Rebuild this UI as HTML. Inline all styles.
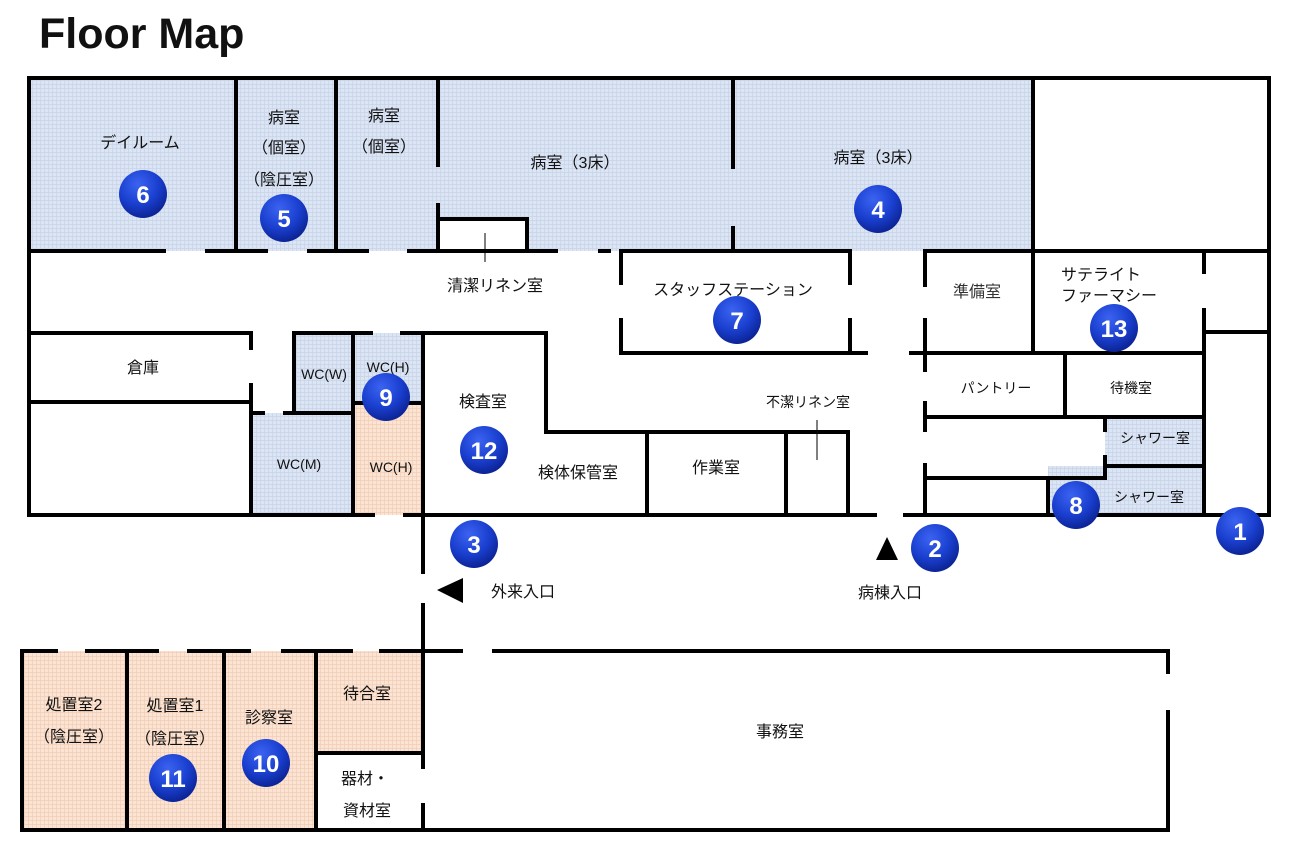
<!DOCTYPE html>
<html><head><meta charset="utf-8">
<style>
html,body{margin:0;padding:0;background:#fff;}
svg{display:block;}
text{font-family:"Liberation Sans","Noto Sans CJK JP",sans-serif;fill:#111;}
.t{font-size:16px;text-anchor:middle;}
.s{font-size:14px;text-anchor:middle;}
.n{font-size:24px;font-weight:bold;fill:#fff;text-anchor:middle;}
</style></head><body>
<svg width="1296" height="848" viewBox="0 0 1296 848" xmlns="http://www.w3.org/2000/svg">
<defs>
<pattern id="pb" width="4" height="4" patternUnits="userSpaceOnUse"><rect width="4" height="4" fill="#dce5f3"/><path d="M0 0.5H4M0.5 0V4" stroke="#c7d3ea" stroke-width="0.7"/></pattern>
<pattern id="po" width="4" height="4" patternUnits="userSpaceOnUse"><rect width="4" height="4" fill="#fbe4d4"/><path d="M0 0.5H4M0.5 0V4" stroke="#f2cdb5" stroke-width="0.7"/></pattern>
<radialGradient id="bg" cx="40%" cy="30%" r="70%"><stop offset="0" stop-color="#3b63f0"/><stop offset="0.6" stop-color="#1a3fcf"/><stop offset="1" stop-color="#0c2496"/></radialGradient>
</defs>
<text x="39" y="48" style="font-size:43px;font-weight:bold;">Floor Map</text>

<rect x="29" y="78" width="1004" height="173" fill="url(#pb)"/>
<rect x="438" y="219" width="89" height="32" fill="#fff"/>
<rect x="294" y="333" width="59" height="80" fill="url(#pb)"/>
<rect x="353" y="333" width="70" height="70" fill="url(#pb)"/>
<rect x="251" y="413" width="102" height="102" fill="url(#pb)"/>
<rect x="353" y="403" width="70" height="112" fill="url(#po)"/>
<rect x="1105" y="417" width="99" height="49" fill="url(#pb)"/>
<rect x="1048" y="466" width="156" height="49" fill="url(#pb)"/>
<rect x="22" y="651" width="400" height="179" fill="url(#po)"/>
<rect x="316" y="753" width="106" height="77" fill="#fff"/>

<g stroke="#000" stroke-width="4" fill="none" stroke-linecap="square">
<path d="M29 78H1269V515"/>
<path d="M29 78V515H373M405 515H875M905 515H1269"/>
<path d="M236 78V251M336 78V251M438 78V165M438 205V251M733 78V167M733 228V251M1033 78V251"/>
<path d="M438 219H527V251"/>
<path d="M29 251H164M207 251H266M309 251H367M409 251H556M600 251H609M621 251H850M925 251H1269"/>
<path d="M621 251V283M621 320V353H866M850 251V283M850 320V353M911 353H925"/>
<path d="M925 251V285M925 320V370M925 403V430M925 465V515"/>
<path d="M1033 251V353M925 353H1204M1204 251V272M1204 310V515M1204 332H1269"/>
<path d="M1065 353V417M925 417H1204M1105 418V430M1105 457V478M925 478H1105M1105 466H1204M1048 478V515"/>
<path d="M546 333V432H848V515M647 432V515M786 432V515"/>
<path d="M29 333H251V348M251 385V413H263M29 402H251M285 413H353"/>
<path d="M294 333H353M294 333V413M353 333V515M251 413V515M353 403H423M353 333H371M402 333H546"/>
<path d="M423 333V572M423 605V767M423 805V830"/>
<path d="M22 651H56M87 651H157M189 651H249M283 651H351M381 651H461M494 651H1168V672M1168 712V830H22V651"/>
<path d="M127 651V830M224 651V830M316 651V830M316 753H423"/>
</g>
<path d="M485 233V262M817 420V460" stroke="#000" stroke-width="1"/>

<polygon points="437,590 463,578 463,603" fill="#000"/>
<polygon points="887,537 876,560 898,560" fill="#000"/>

<text class="t" x="140" y="148">デイルーム</text>
<text class="t" x="284" y="123">病室</text>
<text class="t" x="284" y="153">（個室）</text>
<text class="t" x="284" y="185">（陰圧室）</text>
<text class="t" x="384" y="121">病室</text>
<text class="t" x="384" y="152">（個室）</text>
<text class="t" x="575" y="168">病室（3床）</text>
<text class="t" x="878" y="163">病室（3床）</text>
<text class="t" x="495" y="291">清潔リネン室</text>
<text class="t" x="733" y="295">スタッフステーション</text>
<text class="t" x="977" y="297" style="fill:#333">準備室</text>
<text x="1061" y="280" style="font-size:16px;">サテライト</text>
<text x="1061" y="301" style="font-size:16px;">ファーマシー</text>
<text class="t" x="143" y="373">倉庫</text>
<text class="s" x="324" y="379">WC(W)</text>
<text class="s" x="388" y="372">WC(H)</text>
<text class="s" x="299" y="469">WC(M)</text>
<text class="s" x="391" y="472">WC(H)</text>
<text class="t" x="483" y="407">検査室</text>
<text class="t" x="578" y="478">検体保管室</text>
<text class="t" x="716" y="473">作業室</text>
<text class="s" x="808" y="407">不潔リネン室</text>
<text class="s" x="996" y="393">パントリー</text>
<text class="s" x="1131" y="393">待機室</text>
<text class="s" x="1155" y="443">シャワー室</text>
<text class="s" x="1149" y="502">シャワー室</text>
<text class="t" x="523" y="597">外来入口</text>
<text class="t" x="890" y="598">病棟入口</text>
<text class="t" x="74" y="710">処置室2</text>
<text class="t" x="74" y="742">（陰圧室）</text>
<text class="t" x="175" y="711">処置室1</text>
<text class="t" x="175" y="744">（陰圧室）</text>
<text class="t" x="269" y="723">診察室</text>
<text class="t" x="367" y="699">待合室</text>
<text class="t" x="365" y="784">器材・</text>
<text class="t" x="367" y="816">資材室</text>
<text class="t" x="780" y="737">事務室</text>

<g>
<circle cx="1240" cy="531" r="24" fill="url(#bg)"/><text class="n" x="1240" y="540">1</text>
<circle cx="935" cy="548" r="24" fill="url(#bg)"/><text class="n" x="935" y="557">2</text>
<circle cx="474" cy="544" r="24" fill="url(#bg)"/><text class="n" x="474" y="553">3</text>
<circle cx="878" cy="209" r="24" fill="url(#bg)"/><text class="n" x="878" y="218">4</text>
<circle cx="284" cy="218" r="24" fill="url(#bg)"/><text class="n" x="284" y="227">5</text>
<circle cx="143" cy="194" r="24" fill="url(#bg)"/><text class="n" x="143" y="203">6</text>
<circle cx="737" cy="320" r="24" fill="url(#bg)"/><text class="n" x="737" y="329">7</text>
<circle cx="1076" cy="505" r="24" fill="url(#bg)"/><text class="n" x="1076" y="514">8</text>
<circle cx="386" cy="397" r="24" fill="url(#bg)"/><text class="n" x="386" y="406">9</text>
<circle cx="266" cy="763" r="24" fill="url(#bg)"/><text class="n" x="266" y="772">10</text>
<circle cx="173" cy="778" r="24" fill="url(#bg)"/><text class="n" x="173" y="787">11</text>
<circle cx="484" cy="450" r="24" fill="url(#bg)"/><text class="n" x="484" y="459">12</text>
<circle cx="1114" cy="328" r="24" fill="url(#bg)"/><text class="n" x="1114" y="337">13</text>
</g>
</svg>
</body></html>
